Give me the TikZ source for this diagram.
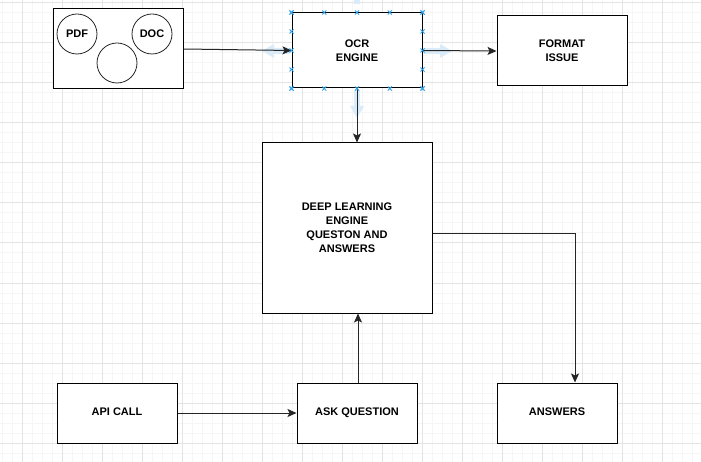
\documentclass[tikz,border=0pt]{standalone}
\usepackage{fontspec}
\setmainfont{Liberation Sans}
\usetikzlibrary{arrows.meta,calc}
\definecolor{gmajor}{RGB}{228,228,228}
\definecolor{gminor}{RGB}{246,246,246}
\definecolor{handle}{RGB}{41,160,232}
\definecolor{hover}{RGB}{218,236,250}
\tikzset{
  box/.style={draw=black, line width=1pt, fill=white, align=center, inner sep=0pt,
    font=\bfseries\fontsize{11}{14}\selectfont},
  lowbox/.style={box, text height=4pt, text depth=0pt},
  circ/.style={circle, draw=black!85, line width=0.8pt, fill=white, minimum size=40pt, inner sep=0pt,
    font=\bfseries\fontsize{11}{14}\selectfont},
  conn/.style={draw=black!85, line width=1pt, -{Stealth[length=9pt,width=8pt,inset=2pt]}},
  handlemark/.style={draw=handle, line width=0.8pt},
  hoverarrow/.style={fill=hover, draw=none}
}
\begin{document}
\begin{tikzpicture}[x=1pt,y=-1pt]
\useasboundingbox (0,0) rectangle (701,462);
\fill[white] (0,0) rectangle (701,462);
% grid
\foreach \x in {2,12,...,692} \draw[gminor, line width=1pt] (\x,0) -- (\x,462);
\foreach \y in {3,13,...,453} \draw[gminor, line width=1pt] (0,\y) -- (701,\y);
\foreach \x in {22,62,...,662} \draw[gmajor, line width=1pt] (\x,0) -- (\x,462);
\foreach \y in {3,43,...,443} \draw[gmajor, line width=1pt] (0,\y) -- (701,\y);
% hover arrows around OCR engine
\fill[hoverarrow] (262,51) -- (274,44) -- (274,48) -- (290,48) -- (290,54) -- (274,54) -- (274,58) -- cycle;
\fill[hoverarrow] (452,51) -- (440,44) -- (440,48) -- (424,48) -- (424,54) -- (440,54) -- (440,58) -- cycle;
\fill[hoverarrow] (357,-14) -- (364,-2) -- (360,-2) -- (360,4) -- (354,4) -- (354,-2) -- (350,-2) -- cycle;
\fill[hoverarrow] (357,118) -- (364,106) -- (360,106) -- (360,90) -- (354,90) -- (354,106) -- (350,106) -- cycle;
% nodes
\node[box, minimum width=130pt, minimum height=80pt] (src) at (118,49) {};
\node[circ] (pdf) at (77,34) {PDF};
\node[circ] (doc) at (152,34) {DOC};
\node[circ] (blank) at (117,63) {};
\node[box, minimum width=130pt, minimum height=75pt] (ocr) at (357,50.5) {OCR\\ENGINE};
\node[box, minimum width=130pt, minimum height=70pt] (fmt) at (562,51) {FORMAT\\ISSUE};
\node[box, minimum width=170pt, minimum height=170pt] (deep) at (347,228) {DEEP LEARNING\\ENGINE\\QUESTON AND\\ANSWERS};
\node[lowbox, minimum width=120pt, minimum height=60pt] (api) at (117,413) {API CALL};
\node[lowbox, minimum width=120pt, minimum height=60pt] (ask) at (357,413) {ASK QUESTION};
\node[lowbox, minimum width=120pt, minimum height=60pt] (ans) at (557,413) {ANSWERS};
% connectors
\draw[conn] (src.east) -- (ocr.west);
\draw[conn] (ocr.east) -- (fmt.west);
\draw[conn] (ocr.south) -- (ocr.south |- deep.north);
\draw[conn] (api.east) -- (ask.west);
\draw[conn] ([xshift=1pt]ask.north) -- ([xshift=1pt]ask.north |- deep.south);
\coordinate (turn) at ([xshift=18pt]ans.north);
\draw[conn] ([yshift=-6pt]deep.east) -| (turn);
% selection handles on OCR engine
\foreach \p in {0,0.25,0.5,0.75,1} {
  \foreach \q in {ocr.north west, ocr.south west} {
    \coordinate (h) at ($(\q)!\p!(\q -| ocr.east)$);
    \draw[handlemark] ([shift={(-2,-2)}]h) -- ([shift={(2,2)}]h) ([shift={(-2,2)}]h) -- ([shift={(2,-2)}]h);
  }
  \foreach \q in {ocr.north west, ocr.north east} {
    \coordinate (h) at ($(\q)!\p!(\q |- ocr.south)$);
    \draw[handlemark] ([shift={(-2,-2)}]h) -- ([shift={(2,2)}]h) ([shift={(-2,2)}]h) -- ([shift={(2,-2)}]h);
  }
}
\end{tikzpicture}
\end{document}
